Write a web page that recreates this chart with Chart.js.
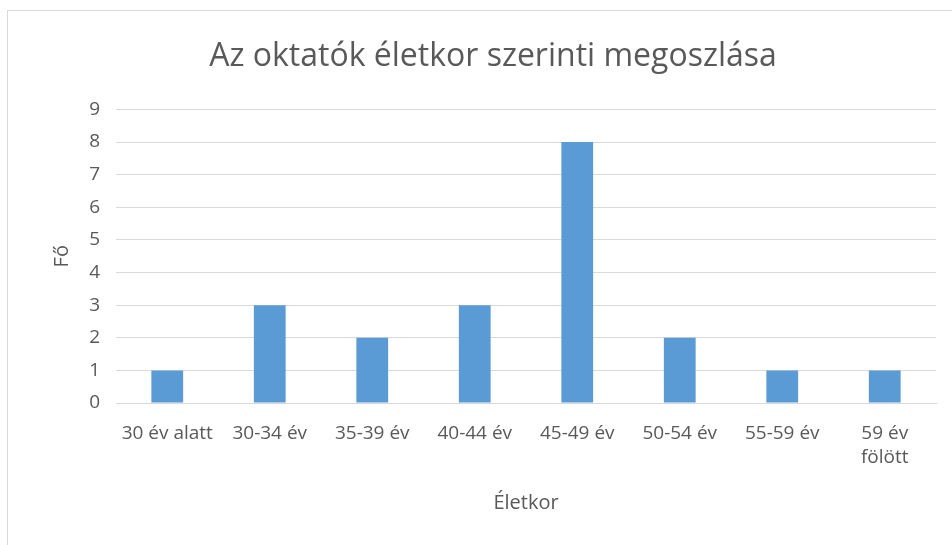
<!DOCTYPE html>
<html>
<head>
<meta charset="utf-8">
<script src="https://cdn.jsdelivr.net/npm/chart.js@4/dist/chart.umd.min.js"></script>
<style>
  body { margin: 0; background: #fff; }
  #wrap { position: relative; width: 952px; height: 545px; overflow: hidden; }
  #keret { position: absolute; left: 7px; top: 10px; width: 1000px; height: 600px;
           border: 1px solid #d9d9d9; }
  #grafika { position: absolute; left: 0; top: 0; }
</style>
</head>
<body>
<div id="wrap">
  <div id="keret"></div>
  <canvas id="grafika" width="952" height="545"></canvas>
</div>
<script>
const kategoriak = ['30 év alatt', '30-34 év', '35-39 év', '40-44 év', '45-49 év', '50-54 év', '55-59 év', ['59 év', 'fölött']];
const letszam = [1, 3, 2, 3, 8, 2, 1, 1];
const yTickek = [0, 1, 2, 3, 4, 5, 6, 7, 8, 9];

const szoveg = '#595959';
const racs = '#d9d9d9';
const betu = '"Open Sans", "Noto Sans", sans-serif';

Chart.defaults.font.family = betu;
Chart.defaults.color = szoveg;

const grafika = document.getElementById('grafika');

new Chart(grafika, {
    type: 'bar',
    data: {
        labels: kategoriak,
        datasets: [{
            label: 'Fő',
            data: letszam,
            backgroundColor: '#5B9BD5',
            borderWidth: 0,
            barPercentage: 0.31,
            categoryPercentage: 1
        }]
    },
    options: {
        responsive: false,
        animation: false,
        layout: { padding: { left: 50, right: 16, top: 20, bottom: 30 } },
        plugins: {
            legend: { display: false },
            tooltip: { enabled: false },
            title: {
                display: true,
                text: 'Az oktatók életkor szerinti megoszlása',
                color: szoveg,
                font: { size: 32, weight: 'normal', lineHeight: 1.2 },
                padding: { top: 18, bottom: 33 }
            }
        },
        scales: {
            x: {
                grid: { display: false, drawTicks: false },
                border: { color: racs, width: 1 },
                ticks: {
                    color: szoveg,
                    font: { size: 19, lineHeight: 1.3 },
                    maxRotation: 0,
                    autoSkip: false,
                    padding: 18
                },
                title: {
                    display: true,
                    text: 'Életkor',
                    color: szoveg,
                    font: { size: 20 },
                    padding: { top: 14, bottom: 0 }
                },
                afterFit: (sk) => { sk.height = 112; }
            },
            y: {
                min: 0,
                max: 9,
                afterBuildTicks: (sk) => { sk.ticks = yTickek.map(v => ({ value: v })); },
                grid: { color: racs, lineWidth: 1, drawTicks: false },
                border: { display: false },
                ticks: {
                    color: szoveg,
                    font: { size: 19 },
                    padding: 16
                },
                title: {
                    display: true,
                    text: 'Fő',
                    color: szoveg,
                    font: { size: 20 },
                    padding: { top: 0, bottom: 6 }
                },
                afterFit: (sk) => { sk.width = 66; }
            }
        }
    }
});
</script>
</body>
</html>
